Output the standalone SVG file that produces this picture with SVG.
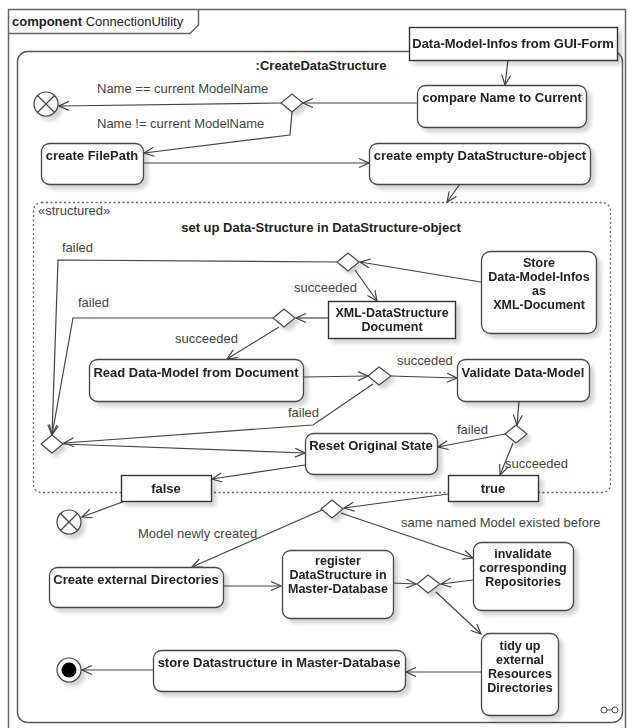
<svg xmlns="http://www.w3.org/2000/svg" width="630" height="728" viewBox="0 0 630 728">
  <style>
    .frame { fill: none; stroke: #666; stroke-width: 1.5; }
    .act { fill: #fff; stroke: #444; stroke-width: 1.3; }
    .obj { fill: #fff; stroke: #333; stroke-width: 1.4; }
    .dec { fill: #fff; stroke: #444; stroke-width: 1.1; }
    .region { fill: none; stroke: #666; stroke-width: 1.3; stroke-dasharray: 2 2.5; }
    .flow { fill: none; stroke: #444; stroke-width: 1.2; marker-end: url(#open); }
    .nt { font-family: "Liberation Sans", Arial, sans-serif; font-size: 13px; font-weight: bold; fill: #222; text-anchor: middle; }
    .ml { font-size: 12.5px; }
    .lbl { font-family: "Liberation Sans", Arial, sans-serif; font-size: 13px; fill: #444; }
    .fin { fill: #fff; stroke: #444; stroke-width: 1.2; }
  </style>
  <defs>
    <marker id="open" markerUnits="userSpaceOnUse" markerWidth="12" markerHeight="12" refX="11" refY="5" orient="auto">
      <path d="M1,0.5 L11,5 L1,9.5" fill="none" stroke="#444" stroke-width="1.2"/>
    </marker>
    <filter id="sh" x="-20%" y="-20%" width="150%" height="160%">
      <feGaussianBlur in="SourceAlpha" stdDeviation="2"/>
      <feOffset dx="4" dy="4"/>
      <feComponentTransfer><feFuncA type="linear" slope="0.18"/></feComponentTransfer>
      <feMerge><feMergeNode/><feMergeNode in="SourceGraphic"/></feMerge>
    </filter>
  </defs>

  <rect width="630" height="728" fill="#fff"/>

  <!-- component frame -->
  <g id="frame">
    <rect class="frame" x="8.5" y="9.5" width="617" height="720"/>
    <path class="frame" d="M8.5,33.5 H190 L198.5,25 V9.5"/>
    <text x="12" y="26" font-family="Liberation Sans, Arial, sans-serif" font-size="13" fill="#222"><tspan font-weight="bold">component</tspan> ConnectionUtility</text>
  </g>

  <!-- activity -->
  <g id="activity">
    <rect x="17.5" y="51.5" width="605" height="671" rx="10" fill="none" stroke="#555" stroke-width="1.4"/>
    <text x="321" y="70" class="nt">:CreateDataStructure</text>
    <g transform="translate(609,710)" fill="none" stroke="#444" stroke-width="1">
      <circle cx="-5" cy="0" r="3"/>
      <circle cx="6" cy="0" r="3"/>
      <line x1="-2" y1="0" x2="3" y2="0"/>
    </g>
  </g>

  <!-- structured region -->
  <g id="structured">
    <rect class="region" x="33.5" y="202.5" width="577" height="290" rx="8"/>
    <text x="38" y="215" class="lbl">«structured»</text>
    <text x="321" y="232" class="nt">set up Data-Structure in DataStructure-object</text>
  </g>

  <!-- connectors -->
  <g id="connectors">
    <path class="flow" d="M508,60 L505,85"/>
    <path class="flow" d="M417,103 L303,103"/>
    <path class="flow" d="M281,103 L59,106"/>
    <path class="flow" d="M292,112 L290,135 L144,153"/>
    <path class="flow" d="M143,163 L369,163"/>
    <path class="flow" d="M460,184 L447,202"/>
    <path class="flow" d="M481,282 L360,262"/>
    <path class="flow" d="M337,262 L58,260 L52,435"/>
    <path class="flow" d="M355,270 L377,301"/>
    <path class="flow" d="M328,318 L296,318"/>
    <path class="flow" d="M273,318 L73,318 L52,435"/>
    <path class="flow" d="M279,327 L227,359"/>
    <path class="flow" d="M303,377 L368,376"/>
    <path class="flow" d="M391,376 L457,378"/>
    <path class="flow" d="M373,384 L313,425 L64,443"/>
    <path class="flow" d="M63,444 L305,453"/>
    <path class="flow" d="M519,401 L517,425"/>
    <path class="flow" d="M505,434 L438,447"/>
    <path class="flow" d="M513,443 L500,475"/>
    <path class="flow" d="M305,465 L212,479"/>
    <path class="flow" d="M125,501 L82,517"/>
    <path class="flow" d="M448,494 L344,508"/>
    <path class="flow" d="M322,510 L192,567"/>
    <path class="flow" d="M341,513 L473,558"/>
    <path class="flow" d="M223,586 L281,586"/>
    <path class="flow" d="M393,583 L416,584"/>
    <path class="flow" d="M473,580 L441,584"/>
    <path class="flow" d="M436,592 L481,634"/>
    <path class="flow" d="M481,672 L406,672"/>
    <path class="flow" d="M153,670 L82,670"/>

    <text x="97" y="93" class="lbl">Name == current ModelName</text>
    <text x="97" y="128" class="lbl">Name != current ModelName</text>
    <text x="62" y="252" class="lbl">failed</text>
    <text x="78" y="307" class="lbl">failed</text>
    <text x="294" y="292" class="lbl">succeeded</text>
    <text x="175" y="343" class="lbl">succeeded</text>
    <text x="397" y="365" class="lbl">succeded</text>
    <text x="288" y="417" class="lbl">failed</text>
    <text x="457" y="434" class="lbl">failed</text>
    <text x="505" y="468" class="lbl">succeeded</text>
    <text x="138" y="538" class="lbl">Model newly created</text>
    <text x="401" y="527" class="lbl">same named Model existed before</text>
  </g>

  <!-- nodes -->
  <g id="gui-infos" filter="url(#sh)">
    <rect class="obj" x="409.5" y="27.5" width="208" height="33"/>
    <text x="513" y="48" class="nt">Data-Model-Infos from GUI-Form</text>
  </g>
  <g id="compare" filter="url(#sh)">
    <rect class="act" x="417.5" y="85.5" width="169" height="42" rx="8"/>
    <text x="502" y="102" class="nt">compare Name to Current</text>
  </g>
  <g id="final1" filter="url(#sh)">
    <circle class="fin" cx="46" cy="104" r="12"/>
    <path d="M37.5,95.5 L54.5,112.5 M54.5,95.5 L37.5,112.5" stroke="#444" stroke-width="1.2"/>
  </g>
  <g id="d1" filter="url(#sh)"><polygon class="dec" points="281,103 292,94 303,103 292,112"/></g>
  <g id="create-filepath" filter="url(#sh)">
    <rect class="act" x="41.5" y="143.5" width="102" height="41" rx="8"/>
    <text x="92" y="160" class="nt">create FilePath</text>
  </g>
  <g id="create-empty" filter="url(#sh)">
    <rect class="act" x="369.5" y="143.5" width="221" height="41" rx="8"/>
    <text x="480" y="160" class="nt">create empty DataStructure-object</text>
  </g>
  <g id="store-xml" filter="url(#sh)">
    <rect class="act" x="481.5" y="251.5" width="115" height="82" rx="9"/>
    <text class="nt ml" x="539" y="267">Store</text>
    <text class="nt ml" x="539" y="281">Data-Model-Infos</text>
    <text class="nt ml" x="539" y="295">as</text>
    <text class="nt ml" x="539" y="309">XML-Document</text>
  </g>
  <g id="d2" filter="url(#sh)"><polygon class="dec" points="337,262 348,253 359,262 348,271"/></g>
  <g id="xml-doc" filter="url(#sh)">
    <rect class="obj" x="328.5" y="301.5" width="127" height="37"/>
    <text class="nt ml" x="392" y="317">XML-DataStructure</text>
    <text class="nt ml" x="392" y="331">Document</text>
  </g>
  <g id="d3" filter="url(#sh)"><polygon class="dec" points="273,318 284,309 295,318 284,327"/></g>
  <g id="read-model" filter="url(#sh)">
    <rect class="act" x="89.5" y="359.5" width="214" height="42" rx="8"/>
    <text x="196" y="377" class="nt">Read Data-Model from Document</text>
  </g>
  <g id="d5" filter="url(#sh)"><polygon class="dec" points="368,376 379,367 391,376 379,385"/></g>
  <g id="validate" filter="url(#sh)">
    <rect class="act" x="457.5" y="359.5" width="132" height="42" rx="8"/>
    <text x="523" y="377" class="nt">Validate Data-Model</text>
  </g>
  <g id="merge" filter="url(#sh)"><polygon class="dec" points="41,444 52,435 63,444 52,453"/></g>
  <g id="d6" filter="url(#sh)"><polygon class="dec" points="505,434 516,425 527,434 516,443"/></g>
  <g id="reset" filter="url(#sh)">
    <rect class="act" x="305.5" y="433.5" width="132" height="41" rx="8"/>
    <text x="371" y="450" class="nt">Reset Original State</text>
  </g>
  <g id="false-pin" filter="url(#sh)">
    <rect class="obj" x="121.5" y="475.5" width="90" height="26"/>
    <text x="166" y="493" class="nt">false</text>
  </g>
  <g id="true-pin" filter="url(#sh)">
    <rect class="obj" x="448.5" y="475.5" width="90" height="26"/>
    <text x="493" y="493" class="nt">true</text>
  </g>
  <g id="final2" filter="url(#sh)">
    <circle class="fin" cx="69" cy="522" r="12"/>
    <path d="M60.5,513.5 L77.5,530.5 M77.5,513.5 L60.5,530.5" stroke="#444" stroke-width="1.2"/>
  </g>
  <g id="d7" filter="url(#sh)"><polygon class="dec" points="321,509 332,500 343,509 332,518"/></g>
  <g id="create-dirs" filter="url(#sh)">
    <rect class="act" x="49.5" y="567.5" width="174" height="40" rx="8"/>
    <text x="136" y="584" class="nt">Create external Directories</text>
  </g>
  <g id="register" filter="url(#sh)">
    <rect class="act" x="282.5" y="550.5" width="111" height="68" rx="8"/>
    <text class="nt ml" x="338" y="565">register</text>
    <text class="nt ml" x="338" y="579">DataStructure in</text>
    <text class="nt ml" x="338" y="593">Master-Database</text>
  </g>
  <g id="d8" filter="url(#sh)"><polygon class="dec" points="417,584 428,575 440,584 428,593"/></g>
  <g id="invalidate" filter="url(#sh)">
    <rect class="act" x="473.5" y="542.5" width="100" height="68" rx="8"/>
    <text class="nt ml" x="523" y="558">invalidate</text>
    <text class="nt ml" x="523" y="572">corresponding</text>
    <text class="nt ml" x="523" y="586">Repositories</text>
  </g>
  <g id="tidy-up" filter="url(#sh)">
    <rect class="act" x="481.5" y="633.5" width="77" height="82" rx="8"/>
    <text class="nt ml" x="520" y="650">tidy up</text>
    <text class="nt ml" x="520" y="664">external</text>
    <text class="nt ml" x="520" y="678">Resources</text>
    <text class="nt ml" x="520" y="692">Directories</text>
  </g>
  <g id="store-master" filter="url(#sh)">
    <rect class="act" x="153.5" y="650.5" width="252" height="41" rx="8"/>
    <text x="279" y="667" class="nt">store Datastructure in Master-Database</text>
  </g>
  <g id="activity-final" filter="url(#sh)">
    <circle class="fin" cx="69" cy="670" r="12"/>
    <circle cx="69" cy="670" r="7.5" fill="#000"/>
  </g>
</svg>
